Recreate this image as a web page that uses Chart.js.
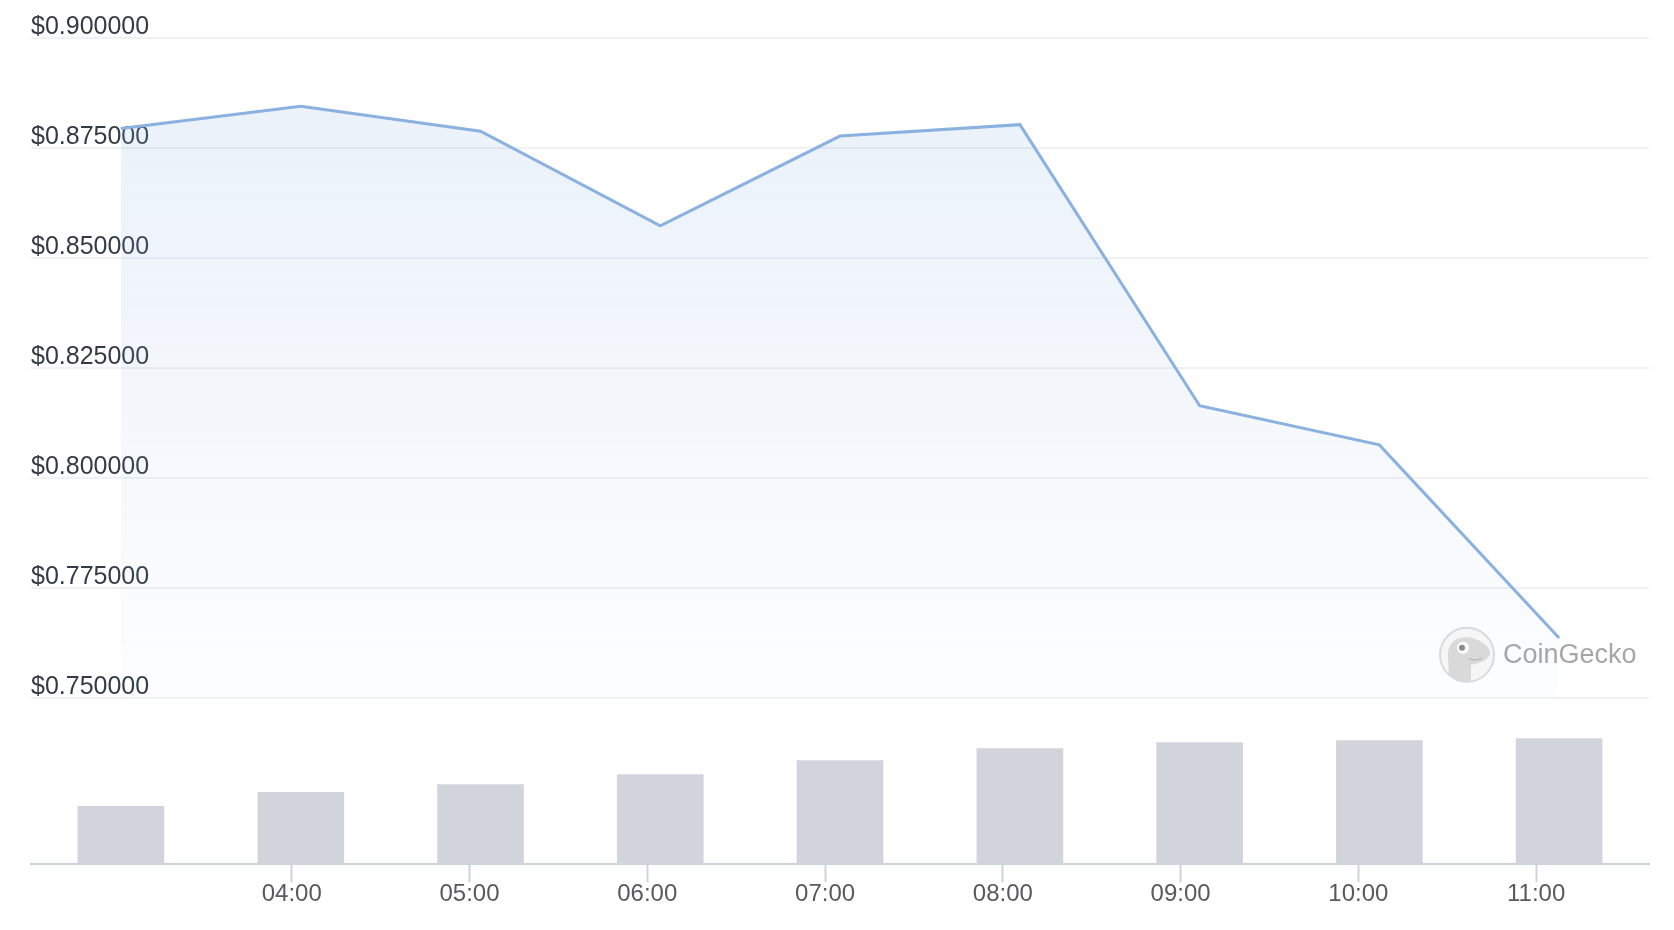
<!DOCTYPE html>
<html>
<head>
<meta charset="utf-8">
<script src="https://cdn.jsdelivr.net/npm/chart.js@4.4.1/dist/chart.umd.min.js"></script>
<style>
  html, body { margin: 0; padding: 0; background: #fff; }
  #wrap { width: 1674px; height: 930px; position: relative; }
</style>
</head>
<body>
<div id="wrap"><canvas id="chart"></canvas></div>
<script>
// sample times in decimal hours, price in USD, volume in $M
const hours = [3.039, 4.051, 5.062, 6.073, 7.084, 8.096, 9.107, 10.118, 11.129];
const prices = [0.8794, 0.8845, 0.8788, 0.8573, 0.8777, 0.8803, 0.8164, 0.8075, 0.7636];
const volumes = [5.8, 7.2, 8.0, 9.0, 10.4, 11.6, 12.2, 12.4, 12.6];
const hourTicks = [4, 5, 6, 7, 8, 9, 10, 11];
const priceTicks = [0.75, 0.775, 0.8, 0.825, 0.85, 0.875, 0.9];
const volumeMax = 16.7;

const n = hours.length;
const step = (hours[n - 1] - hours[0]) / (n - 1);

Chart.defaults.font.family = "'Liberation Sans', Arial, sans-serif";
Chart.defaults.font.size = 24;

// faint CoinGecko mark in the lower right of the price panel
const watermark = {
  id: "watermark",
  afterDraw(chart) {
    const ctx = chart.ctx;
    const s = chart.scales.y;
    const cx = chart.chartArea.right - 182;
    const cy = s.bottom - 43;
    const r = 27;
    ctx.save();
    ctx.beginPath();
    ctx.arc(cx, cy, r, 0, Math.PI * 2);
    ctx.fillStyle = "#f6f6f6";
    ctx.fill();
    ctx.lineWidth = 2;
    ctx.strokeStyle = "#dadada";
    ctx.stroke();
    ctx.clip();
    // gecko head
    ctx.beginPath();
    ctx.moveTo(cx - 18, cy + 30);
    ctx.lineTo(cx - 19, cy - 2);
    ctx.bezierCurveTo(cx - 18, cy - 16, cx - 4, cy - 20, cx + 8, cy - 16);
    ctx.bezierCurveTo(cx + 18, cy - 12, cx + 24, cy - 6, cx + 23, cy - 1);
    ctx.bezierCurveTo(cx + 22, cy + 5, cx + 12, cy + 9, cx + 4, cy + 10);
    ctx.lineTo(cx + 4, cy + 30);
    ctx.closePath();
    ctx.fillStyle = "#d9d9d9";
    ctx.fill();
    ctx.beginPath();
    ctx.arc(cx - 4, cy - 7, 6, 0, Math.PI * 2);
    ctx.fillStyle = "#fff";
    ctx.fill();
    ctx.beginPath();
    ctx.arc(cx - 5, cy - 7, 3, 0, Math.PI * 2);
    ctx.fillStyle = "#8a8a8a";
    ctx.fill();
    ctx.beginPath();
    ctx.moveTo(cx + 2, cy + 4);
    ctx.quadraticCurveTo(cx + 9, cy + 7, cx + 15, cy + 3);
    ctx.lineWidth = 1.5;
    ctx.strokeStyle = "#bdbdbd";
    ctx.stroke();
    ctx.restore();

    ctx.save();
    ctx.font = "27px 'Liberation Sans', Arial, sans-serif";
    ctx.fillStyle = "#a6a6a6";
    ctx.textBaseline = "middle";
    ctx.fillText("CoinGecko", cx + 36, cy + 1);
    ctx.restore();
  },
};

new Chart(document.getElementById("chart"), {
  data: {
    datasets: [
      {
        type: "line",
        label: "Price",
        data: hours.map((h, i) => ({ x: h, y: prices[i] })),
        xAxisID: "x",
        yAxisID: "y",
        borderColor: "#8ab1e0",
        borderWidth: 3,
        tension: 0,
        pointRadius: 0,
        fill: "origin",
        backgroundColor: (c) => {
          const s = c.chart.scales.y;
          if (!s || !isFinite(s.top) || !isFinite(s.bottom) || s.bottom <= s.top) {
            return "rgba(137,176,224,0.1)";
          }
          const g = c.chart.ctx.createLinearGradient(0, s.top, 0, s.bottom);
          g.addColorStop(0, "rgba(137,176,224,0.19)");
          g.addColorStop(1, "rgba(137,176,224,0.02)");
          return g;
        },
        order: 1,
      },
      {
        type: "bar",
        label: "Volume",
        data: hours.map((h, i) => ({ x: h, y: volumes[i] })),
        xAxisID: "x",
        yAxisID: "vol",
        backgroundColor: "#d1d5db",
        barThickness: 86,
        order: 2,
      },
    ],
  },
  options: {
    responsive: true,
    maintainAspectRatio: false,
    animation: false,
    layout: { padding: { top: 38, left: 23, right: 25, bottom: 23 } },
    plugins: { legend: { display: false }, tooltip: { enabled: false } },
    scales: {
      x: {
        type: "linear",
        offset: false,
        min: hours[0] - step / 2,
        max: hours[n - 1] + step / 2,
        afterBuildTicks: (scale) => {
          scale.ticks = hourTicks.map((v) => ({ value: v }));
        },
        ticks: {
          color: "#5a5a5e",
          padding: -2,
          maxRotation: 0,
          autoSkip: false,
          callback: (v) => String(v).padStart(2, "0") + ":00",
        },
        grid: {
          offset: false,
          drawOnChartArea: false,
          drawTicks: true,
          tickLength: 18,
          tickColor: "#cdd3dd",
          tickWidth: 2,
        },
        border: { display: true, color: "#cdd3dd", width: 2 },
      },
      vol: {
        type: "linear",
        position: "left",
        stack: "panels",
        stackWeight: 167,
        weight: 0,
        min: 0,
        max: volumeMax,
        ticks: { display: false },
        grid: { display: false },
        border: { display: false },
      },
      y: {
        type: "linear",
        position: "left",
        stack: "panels",
        stackWeight: 662,
        weight: 1,
        min: priceTicks[0],
        max: priceTicks[priceTicks.length - 1],
        afterBuildTicks: (scale) => {
          scale.ticks = priceTicks.map((v) => ({ value: v }));
        },
        ticks: {
          mirror: true,
          padding: 0,
          labelOffset: -11,
          color: "#343a46",
          font: { size: 25 },
          callback: (v) => "$" + v.toFixed(6),
        },
        grid: { color: "#eff1f4", lineWidth: 2, drawTicks: false },
        border: { display: false },
      },
    },
  },
  plugins: [watermark],
});
</script>
</body>
</html>
